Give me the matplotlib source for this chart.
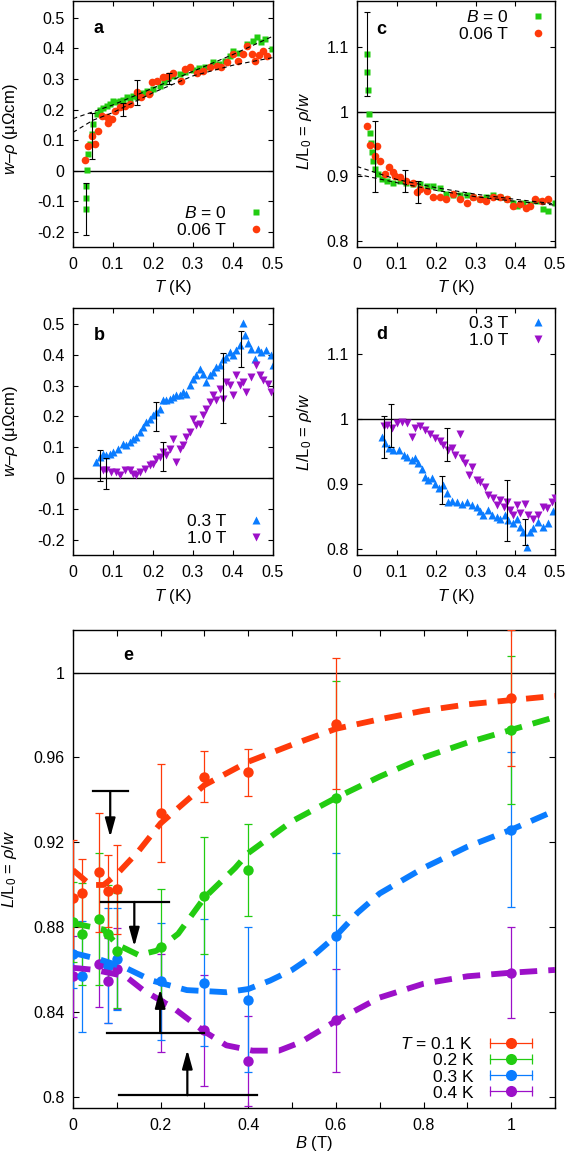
import numpy as np
import matplotlib
matplotlib.use("Agg")
import matplotlib.pyplot as plt
from matplotlib.lines import Line2D
from matplotlib.legend_handler import HandlerLine2D, HandlerTuple

plt.rcParams['font.family'] = ['Liberation Sans', 'DejaVu Sans']
plt.rcParams['mathtext.fontset'] = 'custom'
plt.rcParams['mathtext.rm'] = 'Liberation Sans'
plt.rcParams['mathtext.it'] = 'Liberation Sans:italic'
plt.rcParams['axes.unicode_minus'] = False

RED = '#ff3a0a'
GREEN = '#22cc11'
BLUE = '#0a7cff'
PURPLE = '#9c10c8'

TICK_FS = 11.5
LEG_FS = 12.5
LAB_FS = 12

# ---------------- panel a : w - rho vs T ----------------
a_T_B0 = [0.0325, 0.0325, 0.0325, 0.036, 0.038, 0.0425, 0.047, 0.051, 0.059, 0.0675,
          0.075, 0.084, 0.092, 0.10, 0.108, 0.117, 0.125, 0.134, 0.142, 0.15, 0.159,
          0.167, 0.175, 0.184, 0.192, 0.20, 0.2175, 0.228, 0.238, 0.25, 0.2675, 0.28,
          0.30, 0.315, 0.33, 0.35, 0.365, 0.38, 0.3925, 0.40, 0.415, 0.434, 0.45,
          0.46, 0.47, 0.48, 0.497]
a_y_B0 = [-0.125, -0.089, -0.051, 0.002, 0.054, 0.087, 0.12, 0.153, 0.185, 0.20,
          0.205, 0.21, 0.218, 0.229, 0.226, 0.229, 0.232, 0.24, 0.236, 0.245, 0.242,
          0.25, 0.255, 0.26, 0.258, 0.268, 0.278, 0.29, 0.302, 0.31, 0.316, 0.322,
          0.33, 0.335, 0.34, 0.354, 0.35, 0.36, 0.376, 0.39, 0.385, 0.414, 0.425,
          0.436, 0.42, 0.43, 0.398]
a_T_B006 = [0.03, 0.038, 0.047, 0.055, 0.063, 0.072, 0.084, 0.088, 0.097, 0.105,
            0.1175, 0.13, 0.1425, 0.159, 0.17, 0.19, 0.197, 0.209, 0.226, 0.238, 0.25,
            0.27, 0.28, 0.2925, 0.31, 0.326, 0.3425, 0.36, 0.37, 0.384, 0.40, 0.413,
            0.426, 0.434, 0.447, 0.455, 0.465, 0.476, 0.484]
a_y_B006 = [0.035, 0.082, 0.114, 0.087, 0.13, 0.18, 0.174, 0.155, 0.169, 0.196,
            0.207, 0.212, 0.218, 0.256, 0.24, 0.25, 0.289, 0.294, 0.305, 0.31, 0.321,
            0.294, 0.332, 0.338, 0.32, 0.327, 0.338, 0.343, 0.338, 0.354, 0.381, 0.36,
            0.381, 0.409, 0.381, 0.36, 0.38, 0.392, 0.376]
a_err_T = [0.0325, 0.047, 0.126, 0.159, 0.24]
a_err_y = [-0.126, 0.114, 0.20, 0.255, 0.30]
a_err = [0.084, 0.076, 0.022, 0.04, 0.018]
a_fit_T = [0, 0.1, 0.2, 0.3, 0.4, 0.5]
a_fit1 = [0.17, 0.215, 0.27, 0.325, 0.38, 0.44]
a_fit2_T = [0, 0.05, 0.1, 0.2, 0.3, 0.4, 0.5]
a_fit2 = [0.125, 0.165, 0.19, 0.255, 0.31, 0.345, 0.37]

# ---------------- panel c : L/L0 vs T ----------------
c_T_B0 = [0.026, 0.026, 0.0286, 0.031, 0.033, 0.035, 0.037, 0.041, 0.045, 0.054,
          0.062, 0.075, 0.092, 0.1085, 0.125, 0.142, 0.159, 0.176, 0.193, 0.21,
          0.226, 0.243, 0.26, 0.277, 0.294, 0.31, 0.327, 0.344, 0.361, 0.378, 0.395,
          0.403, 0.42, 0.437, 0.454, 0.47, 0.483, 0.5]
c_y_B0 = [1.0897, 1.062, 1.0345, 0.997, 0.967, 0.952, 0.937, 0.924, 0.911, 0.903,
          0.895, 0.893, 0.89, 0.893, 0.89, 0.888, 0.888, 0.885, 0.885, 0.882,
          0.872, 0.87, 0.87, 0.87, 0.867, 0.864, 0.867, 0.87, 0.867, 0.864, 0.859,
          0.854, 0.859, 0.857, 0.862, 0.849, 0.846, 0.859]
c_T_B006 = [0.026, 0.033, 0.045, 0.051, 0.058, 0.071, 0.082, 0.09, 0.096, 0.109,
            0.125, 0.142, 0.151, 0.159, 0.176, 0.193, 0.21, 0.226, 0.243, 0.26,
            0.277, 0.294, 0.31, 0.327, 0.344, 0.361, 0.378, 0.395, 0.412, 0.428,
            0.437, 0.45, 0.466, 0.483]
c_y_B006 = [0.978, 0.948, 0.931, 0.947, 0.924, 0.903, 0.914, 0.906, 0.90, 0.898,
            0.893, 0.89, 0.875, 0.88, 0.877, 0.867, 0.867, 0.864, 0.872, 0.864,
            0.859, 0.867, 0.864, 0.862, 0.867, 0.867, 0.864, 0.854, 0.857, 0.851,
            0.854, 0.864, 0.862, 0.864]
c_err_T = [0.026, 0.045, 0.122, 0.155]
c_err_y = [1.09, 0.93, 0.8925, 0.876]
c_err = [0.065, 0.055, 0.0165, 0.017]
c_fit_T = [0, 0.1, 0.2, 0.3, 0.4, 0.5]
c_fit1 = [0.915, 0.895, 0.882, 0.872, 0.864, 0.857]
c_fit2 = [0.903, 0.89, 0.878, 0.868, 0.861, 0.855]

# ---------------- panel b : w - rho vs T ----------------
b_T_03 = [0.058, 0.067, 0.075, 0.083, 0.092, 0.10, 0.1125, 0.125, 0.133, 0.142,
          0.15, 0.158, 0.167, 0.175, 0.183, 0.192, 0.20, 0.208, 0.217, 0.225,
          0.233, 0.242, 0.25, 0.258, 0.267, 0.275, 0.283, 0.292, 0.30, 0.308,
          0.317, 0.325, 0.333, 0.342, 0.35, 0.358, 0.367, 0.375, 0.383, 0.392,
          0.40, 0.408, 0.417, 0.425, 0.429, 0.4375, 0.446, 0.454, 0.4625, 0.471,
          0.483, 0.496, 0.50]
b_y_03 = [0.052, 0.068, 0.079, 0.074, 0.079, 0.085, 0.095, 0.112, 0.106, 0.117,
          0.128, 0.133, 0.15, 0.166, 0.182, 0.193, 0.204, 0.215, 0.225, 0.252,
          0.252, 0.258, 0.263, 0.269, 0.269, 0.28, 0.274, 0.301, 0.323, 0.334,
          0.355, 0.339, 0.312, 0.334, 0.345, 0.361, 0.366, 0.388, 0.393, 0.41,
          0.399, 0.415, 0.431, 0.502, 0.464, 0.437, 0.42, 0.388, 0.42, 0.41,
          0.415, 0.399, 0.366]
b_T_10 = [0.075, 0.083, 0.096, 0.108, 0.117, 0.129, 0.142, 0.15, 0.158, 0.167,
          0.179, 0.192, 0.20, 0.208, 0.217, 0.225, 0.233, 0.242, 0.25, 0.258,
          0.267, 0.275, 0.283, 0.292, 0.30, 0.308, 0.317, 0.325, 0.333, 0.342,
          0.35, 0.358, 0.367, 0.375, 0.383, 0.392, 0.40, 0.408, 0.417, 0.425,
          0.433, 0.446, 0.458, 0.467, 0.475, 0.4875, 0.496]
b_y_10 = [0.025, 0.025, 0.02, 0.02, 0.009, 0.025, 0.025, 0.014, 0.009, 0.02,
          0.03, 0.041, 0.047, 0.063, 0.068, 0.085, 0.074, 0.095, 0.128, 0.052,
          0.095, 0.106, 0.133, 0.15, 0.193, 0.171, 0.177, 0.204, 0.225, 0.247,
          0.269, 0.252, 0.29, 0.258, 0.312, 0.301, 0.269, 0.334, 0.301, 0.312,
          0.28, 0.328, 0.366, 0.334, 0.317, 0.307, 0.28]
b_err_T = [0.067, 0.083, 0.208, 0.225, 0.375, 0.42]
b_err_y = [0.042, 0.016, 0.20, 0.07, 0.292, 0.42]
b_err = [0.05, 0.05, 0.046, 0.048, 0.114, 0.058]

# ---------------- panel d : L/L0 vs T ----------------
d_T_03 = [0.063, 0.071, 0.08, 0.092, 0.105, 0.118, 0.126, 0.139, 0.147, 0.155,
          0.164, 0.172, 0.18, 0.189, 0.197, 0.206, 0.218, 0.227, 0.231, 0.24,
          0.252, 0.265, 0.277, 0.29, 0.3025, 0.311, 0.319, 0.332, 0.34, 0.353,
          0.361, 0.374, 0.382, 0.395, 0.403, 0.412, 0.42, 0.429, 0.437, 0.445,
          0.458, 0.47, 0.483, 0.496]
d_y_03 = [0.972, 0.962, 0.954, 0.952, 0.952, 0.944, 0.941, 0.936, 0.939, 0.931,
          0.923, 0.91, 0.905, 0.908, 0.90, 0.893, 0.898, 0.885, 0.872, 0.873,
          0.872, 0.869, 0.872, 0.867, 0.864, 0.857, 0.851, 0.859, 0.851, 0.849,
          0.846, 0.851, 0.844, 0.839, 0.846, 0.833, 0.826, 0.803, 0.826, 0.831,
          0.841, 0.833, 0.839, 0.857]
d_T_10 = [0.067, 0.076, 0.088, 0.101, 0.113, 0.126, 0.139, 0.147, 0.16, 0.172,
          0.185, 0.197, 0.21, 0.218, 0.231, 0.24, 0.248, 0.26, 0.265, 0.273,
          0.282, 0.29, 0.3025, 0.311, 0.324, 0.332, 0.3445, 0.353, 0.361, 0.37,
          0.378, 0.387, 0.395, 0.403, 0.412, 0.424, 0.433, 0.445, 0.458, 0.47,
          0.479, 0.4916, 0.50]
d_y_10 = [0.988, 0.99, 0.985, 0.993, 0.995, 0.993, 0.972, 0.985, 0.988, 0.983,
          0.977, 0.97, 0.965, 0.959, 0.952, 0.954, 0.944, 0.977, 0.939, 0.931,
          0.913, 0.926, 0.905, 0.903, 0.895, 0.882, 0.877, 0.867, 0.875, 0.864,
          0.872, 0.859, 0.851, 0.867, 0.854, 0.869, 0.851, 0.846, 0.851, 0.864,
          0.862, 0.872, 0.877]
d_err_T = [0.067, 0.0857, 0.214, 0.227, 0.378, 0.424]
d_err_y = [0.972, 0.99, 0.89, 0.96, 0.858, 0.826]
d_err = [0.032, 0.033, 0.022, 0.026, 0.047, 0.02]

# ---------------- panel e : L/L0 vs B ----------------
e_B_01 = [0, 0.02, 0.06, 0.08, 0.1, 0.2, 0.3, 0.4, 0.6, 1.0]
e_y_01 = [0.894, 0.896, 0.906, 0.897, 0.898, 0.934, 0.951, 0.953, 0.976, 0.988]
e_err_01 = [0.027, 0.016, 0.028, 0.017, 0.021, 0.023, 0.012, 0.011, 0.031, 0.032]
e_B_02 = [0, 0.02, 0.06, 0.08, 0.1, 0.2, 0.3, 0.4, 0.6, 1.0]
e_y_02 = [0.8825, 0.877, 0.884, 0.877, 0.869, 0.871, 0.895, 0.907, 0.941, 0.973]
e_err_02 = [0.019, 0.024, 0.031, 0.023, 0.027, 0.027, 0.0275, 0.0215, 0.055, 0.035]
e_B_03 = [0, 0.02, 0.08, 0.1, 0.2, 0.3, 0.4, 0.6, 1.0]
e_y_03 = [0.8676, 0.857, 0.862, 0.865, 0.8546, 0.854, 0.846, 0.876, 0.926]
e_err_03 = [0.016, 0.026, 0.027, 0.024, 0.0275, 0.03, 0.034, 0.039, 0.0365]
e_B_04 = [0, 0.06, 0.08, 0.1, 0.2, 0.3, 0.4, 0.6, 1.0]
e_y_04 = [0.857, 0.8626, 0.8548, 0.8606, 0.8444, 0.8315, 0.8171, 0.8362, 0.8587]
e_err_04 = [0.019, 0.02, 0.02, 0.019, 0.023, 0.026, 0.021, 0.0244, 0.0214]

fit_B_01 = [0, 0.04, 0.07, 0.1, 0.15, 0.2, 0.3, 0.4, 0.5, 0.6, 0.7, 0.8, 0.9, 1.0, 1.1]
fit_y_01 = [0.907, 0.900, 0.900, 0.905, 0.916, 0.929, 0.947, 0.958, 0.966, 0.9735, 0.978,
            0.982, 0.985, 0.987, 0.989]
fit_B_02 = [0, 0.07, 0.1, 0.15, 0.19, 0.24, 0.3, 0.37, 0.4, 0.5, 0.6, 0.7, 0.8, 0.9, 1.0, 1.1]
fit_y_02 = [0.882, 0.879, 0.872, 0.867, 0.869, 0.877, 0.894, 0.908, 0.915, 0.930, 0.941,
            0.951, 0.960, 0.967, 0.973, 0.979]
fit_B_03 = [0, 0.06, 0.12, 0.18, 0.26, 0.35, 0.4, 0.45, 0.5, 0.55, 0.6, 0.65, 0.7, 0.8,
            0.9, 1.0, 1.1]
fit_y_03 = [0.868, 0.865, 0.861, 0.855, 0.8505, 0.8495, 0.851, 0.855, 0.860, 0.867,
            0.876, 0.887, 0.896, 0.908, 0.918, 0.926, 0.935]
fit_B_04 = [0, 0.05, 0.12, 0.16, 0.23, 0.3, 0.35, 0.41, 0.47, 0.52, 0.6, 0.7, 0.8, 0.9,
            1.0, 1.1]
fit_y_04 = [0.861, 0.860, 0.857, 0.8505, 0.842, 0.831, 0.8245, 0.822, 0.822, 0.826,
            0.836, 0.847, 0.8535, 0.857, 0.8587, 0.860]

# threshold markers (bar + arrow)
mark_y = [0.944, 0.892, 0.8303, 0.801]
mark_x0 = [0.0465, 0.063, 0.078, 0.104]
mark_x1 = [0.125, 0.219, 0.298, 0.421]
mark_ax = [0.085, 0.14, 0.199, 0.261]
mark_tip = [0.9225, 0.871, 0.851, 0.8224]


def style_axes(ax, xticks, xlabels, yticks, ylabels, ticklen=3.5):
    ax.set_xticks(xticks)
    ax.set_xticklabels(xlabels)
    ax.set_yticks(yticks)
    ax.set_yticklabels(ylabels)
    ax.tick_params(direction='in', top=True, right=True, length=ticklen,
                   width=0.8, labelsize=TICK_FS, pad=6)
    ax.tick_params(axis='x', pad=7)
    for s in ax.spines.values():
        s.set_linewidth(1.0)


def small_errs(ax, xs, ys, es):
    ax.errorbar(xs, ys, yerr=es, fmt='none', ecolor='k', elinewidth=0.8,
                capsize=2.5, capthick=0.8, zorder=4)


def small_legend(ax, loc, anchor):
    ax.legend(loc=loc, bbox_to_anchor=anchor, markerfirst=False,
              frameon=False, fontsize=LEG_FS, handlelength=1.0, handletextpad=1.2,
              labelspacing=0.1, borderaxespad=0, borderpad=0.1)


fig = plt.figure(figsize=(5.67, 11.59), dpi=100)

T_ticks = [0, 0.1, 0.2, 0.3, 0.4, 0.5]
T_labels = ['0', '0.1', '0.2', '0.3', '0.4', '0.5']
wr_ticks = [-0.2, -0.1, 0, 0.1, 0.2, 0.3, 0.4, 0.5]
wr_labels = ['-0.2', '-0.1', '0', '0.1', '0.2', '0.3', '0.4', '0.5']
L_ticks = [0.8, 0.9, 1.0, 1.1]
L_labels = ['0.8', '0.9', '1', '1.1']
wr_ylabel = r'$w$–$\rho$ (μΩcm)'
L_ylabel = r'$L$/L$_0$ = $\rho$/$w$'

# panel a
ax = fig.add_axes([0.1287, 0.7869, 0.3527, 0.2122])
ax.axhline(0, color='k', lw=1.0, zorder=1)
ax.plot(a_T_B0, a_y_B0, 's', color=GREEN, ms=5, mec='none', label=r'$B$ = 0', zorder=2)
ax.plot(a_T_B006, a_y_B006, 'o', color=RED, ms=5.5, mec='none', label='0.06 T', zorder=3)
ax.plot(a_fit_T, a_fit1, color='k', lw=0.8, ls=(0, (4, 3)), zorder=5)
ax.plot(a_fit2_T, a_fit2, color='k', lw=0.8, ls=(0, (4, 3)), zorder=5)
small_errs(ax, a_err_T, a_err_y, a_err)
ax.set_xlim(0, 0.5)
ax.set_ylim(-0.25, 0.555)
style_axes(ax, T_ticks, T_labels, wr_ticks, wr_labels)
ax.set_ylabel(wr_ylabel, fontsize=LAB_FS)
ax.yaxis.set_label_coords(-0.265, 0.48)
ax.set_xlabel(r'$T$ (K)', fontsize=LAB_FS)
ax.xaxis.set_label_coords(0.5, -0.125)
ax.text(0.065, 0.464, 'a', fontsize=13, fontweight='bold', ha='center', va='center')
small_legend(ax, 'lower right', (0.965, 0.03))

# panel c
ax = fig.add_axes([0.6296, 0.7869, 0.3492, 0.2122])
ax.axhline(1, color='k', lw=1.0, zorder=1)
ax.plot(c_T_B0, c_y_B0, 's', color=GREEN, ms=5, mec='none', label=r'$B$ = 0', zorder=2)
ax.plot(c_T_B006, c_y_B006, 'o', color=RED, ms=5.5, mec='none', label='0.06 T', zorder=3)
ax.plot(c_fit_T, c_fit1, color='k', lw=0.8, ls=(0, (4, 3)), zorder=5)
ax.plot(c_fit_T, c_fit2, color='k', lw=0.8, ls=(0, (4, 3)), zorder=5)
small_errs(ax, c_err_T, c_err_y, c_err)
ax.set_xlim(0, 0.5)
ax.set_ylim(0.79, 1.172)
style_axes(ax, T_ticks, T_labels, L_ticks, L_labels)
ax.set_ylabel(L_ylabel, fontsize=LAB_FS)
ax.yaxis.set_label_coords(-0.215, 0.47)
ax.set_xlabel(r'$T$ (K)', fontsize=LAB_FS)
ax.xaxis.set_label_coords(0.5, -0.125)
ax.text(0.062, 1.128, 'c', fontsize=13, fontweight='bold', ha='center', va='center')
small_legend(ax, 'upper right', (0.965, 0.975))

# panel b
ax = fig.add_axes([0.1287, 0.5211, 0.3527, 0.2131])
ax.axhline(0, color='k', lw=1.0, zorder=1)
ax.plot(b_T_03, b_y_03, '^', color=BLUE, ms=6, mec='none', label='0.3 T', zorder=2)
ax.plot(b_T_10, b_y_10, 'v', color=PURPLE, ms=6, mec='none', label='1.0 T', zorder=3)
small_errs(ax, b_err_T, b_err_y, b_err)
ax.set_xlim(0, 0.5)
ax.set_ylim(-0.25, 0.552)
style_axes(ax, T_ticks, T_labels, wr_ticks, wr_labels)
ax.set_ylabel(wr_ylabel, fontsize=LAB_FS)
ax.yaxis.set_label_coords(-0.265, 0.5)
ax.set_xlabel(r'$T$ (K)', fontsize=LAB_FS)
ax.xaxis.set_label_coords(0.5, -0.13)
ax.text(0.065, 0.464, 'b', fontsize=13, fontweight='bold', ha='center', va='center')
small_legend(ax, 'lower right', (0.965, 0.03))

# panel d
ax = fig.add_axes([0.6296, 0.5211, 0.3492, 0.2131])
ax.axhline(1, color='k', lw=1.0, zorder=1)
ax.plot(d_T_03, d_y_03, '^', color=BLUE, ms=6, mec='none', label='0.3 T', zorder=2)
ax.plot(d_T_10, d_y_10, 'v', color=PURPLE, ms=6, mec='none', label='1.0 T', zorder=3)
small_errs(ax, d_err_T, d_err_y, d_err)
ax.set_xlim(0, 0.5)
ax.set_ylim(0.79, 1.17)
style_axes(ax, T_ticks, T_labels, L_ticks, L_labels)
ax.set_ylabel(L_ylabel, fontsize=LAB_FS)
ax.yaxis.set_label_coords(-0.215, 0.5)
ax.set_xlabel(r'$T$ (K)', fontsize=LAB_FS)
ax.xaxis.set_label_coords(0.5, -0.13)
ax.text(0.062, 1.13, 'd', fontsize=13, fontweight='bold', ha='center', va='center')
small_legend(ax, 'upper right', (0.965, 0.975))

# panel e
ax = fig.add_axes([0.1287, 0.0440, 0.8501, 0.4124])
ax.axhline(1, color='k', lw=1.0, zorder=1)
series = [
    (e_B_04, e_y_04, e_err_04, fit_B_04, fit_y_04, PURPLE, '0.4 K'),
    (e_B_03, e_y_03, e_err_03, fit_B_03, fit_y_03, BLUE, '0.3 K'),
    (e_B_02, e_y_02, e_err_02, fit_B_02, fit_y_02, GREEN, '0.2 K'),
    (e_B_01, e_y_01, e_err_01, fit_B_01, fit_y_01, RED, r'$T$ = 0.1 K'),
]
handles = {}
hmap = {}
for bx, by, be, fx, fy, col, lab in series:
    ax.errorbar(bx, by, yerr=be, fmt='o', color=col, ms=7.5, mec='none',
                elinewidth=0.9, capsize=3, capthick=0.9, zorder=3)
    ax.plot(fx, fy, color=col, lw=4.2, dashes=(3.0, 1.9), zorder=4)
    bar = Line2D([], [], color=col, lw=0.9, marker='|', ms=7, mew=0.9)
    dot = Line2D([], [], color=col, ls='none', marker='o', ms=8, mec='none')
    hmap[bar] = HandlerLine2D(numpoints=2)
    hmap[dot] = HandlerLine2D(numpoints=1)
    handles[lab] = (bar, dot)
hmap[tuple] = HandlerTuple(ndivide=1, pad=0)

for y0, x0, x1, xa, yt in zip(mark_y, mark_x0, mark_x1, mark_ax, mark_tip):
    ax.plot([x0, x1], [y0, y0], color='k', lw=1.6, zorder=6)
    ax.annotate('', xy=(xa, yt), xytext=(xa, y0),
                arrowprops=dict(arrowstyle='-|>,head_length=0.8,head_width=0.22',
                                color='k', lw=1.6, mutation_scale=14,
                                shrinkA=0, shrinkB=0), zorder=6)

ax.set_xlim(0, 1.1)
ax.set_ylim(0.795, 1.02)
B_ticks = [0, 0.1, 0.2, 0.3, 0.4, 0.5, 0.6, 0.7, 0.8, 0.9, 1.0, 1.1]
B_labels = ['0', '', '0.2', '', '0.4', '', '0.6', '', '0.8', '', '1', '']
e_ticks = [0.8, 0.84, 0.88, 0.92, 0.96, 1.0]
e_labels = ['0.8', '0.84', '0.88', '0.92', '0.96', '1']
style_axes(ax, B_ticks, B_labels, e_ticks, e_labels, ticklen=4.5)
ax.set_ylabel(L_ylabel, fontsize=LAB_FS)
ax.yaxis.set_label_coords(-0.113, 0.5)
ax.set_xlabel(r'$B$ (T)', fontsize=LAB_FS)
ax.xaxis.set_label_coords(0.5, -0.055)
ax.text(0.126, 1.008, 'e', fontsize=13, fontweight='bold', ha='center', va='center')

order = [r'$T$ = 0.1 K', '0.2 K', '0.3 K', '0.4 K']
leg = ax.legend([handles[k] for k in order], order, handler_map=hmap,
                loc='lower right', bbox_to_anchor=(0.967, 0.012), markerfirst=False,
                frameon=False, fontsize=LEG_FS, handlelength=3.0, handletextpad=0.7,
                labelspacing=0.05, borderaxespad=0, borderpad=0.1)

fig.savefig('out.png', dpi=100)
